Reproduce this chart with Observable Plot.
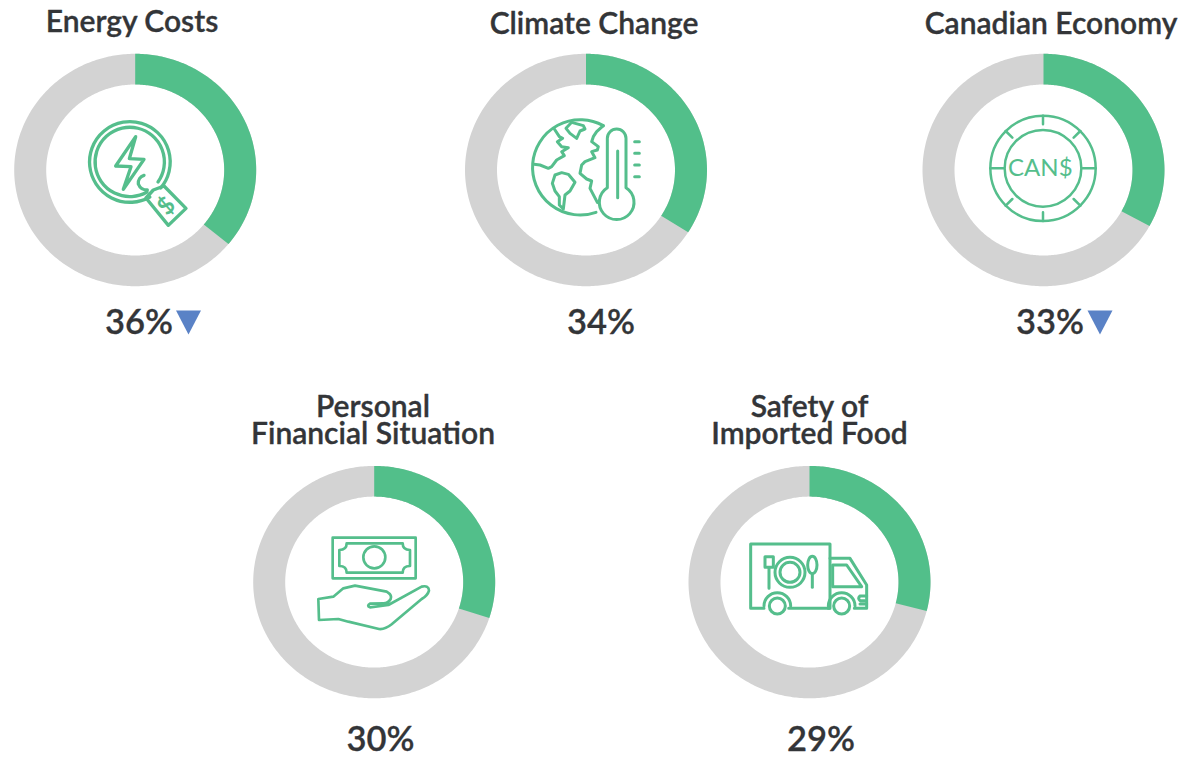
<!DOCTYPE html>
<html><head><meta charset="utf-8">
<script src="https://cdn.jsdelivr.net/npm/d3@7"></script>
<script src="https://cdn.jsdelivr.net/npm/@observablehq/plot@0.6"></script>
<style>html,body{margin:0;padding:0;background:#fff}svg{display:block}</style>
</head><body><div id="chart"></div>
<script>
const topics = ["Energy Costs","Climate Change","Canadian Economy","Personal\nFinancial Situation","Safety of\nImported Food"];
const shares = [36,34,33,30,29];
const changes = ["down",null,"down",null,null];

// layout (pixels on the page), kept apart from the values
const centerX = [134.7,585.5,1043,373.7,809];
const centerY = [169.5,169.5,169.5,581.6,581.6];
const titleX  = [131.5,593.5,1050.5,372.5,809];
const titleY  = [23,25,25,421,421];
const labelX  = [138.5,600.5,1049.5,380,820.5];
const labelY  = [322,322,322,739,739];
const markerX = [188,null,1099.5,null,null];
const RX1 = 121, RY1 = 116.2, RX0 = 89, RY0 = 85.5;
const GREEN = "#52bf8a", GRAY = "#d3d3d3", INK = "#333538", BLUE = "#5a82c6", ICON = "#55be8c";

const rows = topics.map((topic,i)=>({topic,share:shares[i],whole:100,change:changes[i],
  cx:centerX[i],cy:centerY[i],tx:titleX[i],ty:titleY[i],lx:labelX[i],ly:labelY[i],mx:markerX[i]}));

// ring sector: the picture's rings are slightly squashed, so trace an ellipse
const wedge = {draw(ctx,l){
  const n=Math.max(2,Math.round(l*4)), pts=[];
  for(let k=0;k<=n;k++) pts.push(-Math.PI/2+(k/n)*(l/100)*2*Math.PI);
  pts.forEach((a,k)=>ctx[k?"lineTo":"moveTo"](RX1*Math.cos(a),RY1*Math.sin(a)));
  pts.reverse().forEach(a=>ctx.lineTo(RX0*Math.cos(a),RY0*Math.sin(a)));
  ctx.closePath();
}};
const triangleDown = {draw(ctx,size){
  const a=Math.sqrt(size), w=a*0.705, h=a*0.677;
  ctx.moveTo(-w,-h);ctx.lineTo(w,-h);ctx.lineTo(0,h);ctx.closePath();
}};

// line-art icons, each in its own 3x coordinate space
const icons = [
 {o:[70,110],w:10,items:[
  ["path","M239.5 261A121 121 0 1 1 272 234"],
  ["path","M231 246A104 104 0 1 1 264 216"],
  ["path","M197 80L137 168L183 170L160 238L222 148L178 146Z"],
  ["path","M222 196A24 24 0 0 0 205 222Q212 240 232 240"],
  ["path","M228 264L250 240L282 228L348 295L295 346Z"],
  ["text","$",[306,305],-45,72]
 ]},
 {o:[520,105],w:9,items:[
  ["path","M250 62A143 143 0 1 0 228 322"],
  ["path","M103 72L118 95L128 100L112 110L125 125L145 128L125 140L133 152L110 165L95 185L85 190L60 180L42 178"],
  ["path","M97 235L105 210L125 203L145 208L165 232L150 258L135 270L130 312L118 300L118 275L105 258Z"],
  ["path","M138 70L155 52L190 62L195 72L180 78L170 100L150 85Z"],
  ["path","M250 62L230 80L220 95L215 110L235 125L232 135L215 140L225 158L195 170L185 180L180 205L200 222L215 228L210 250L232 292"],
  ["path","M262 248V100A28 28 0 0 1 318 100V248A52 52 0 1 1 262 248Z"],
  ["path","M293 138V278"],
  ["path","M344 110H358M344 145H358M344 180H358M344 215H358"]
 ]},
 {o:[975,105],w:7.5,items:[
  ["circle",204,190,158],["circle",204,190,115],
  ["path","M204 32V58M204 348V322M46 190H85M362 190H323M92 78L112 98M316 78L296 98M92 302L112 282M316 302L296 282"],
  ["text","CAN$",[196,212],0,72,"400"]
 ]},
 {o:[305,525],w:8,items:[
  ["path","M83 38H332V160H83Z"],
  ["path","M125 55H293Q293 75 315 75V123Q293 123 293 143H125Q125 123 103 123V75Q125 75 125 55Z"],
  ["circle",208,97,33],
  ["path","M40 222L85 215L115 190L150 182L245 200Q262 210 257 222Q250 235 235 235L195 236Q184 243 195 247L250 240L350 185Q372 180 372 197Q368 212 350 222L260 298Q240 314 222 312L130 290L100 282L42 285Z"]
 ]},
 {o:[740,530],w:9,items:[
  ["path","M72 235H32V42H270V235H146"],
  ["path","M270 85H330L380 165V235H343"],
  ["path","M265 235H268"],
  ["path","M278 105H320L365 170H278Z"],
  ["circle",112,228,24],["circle",305,228,24],
  ["path","M72 228A40 40 0 0 1 152 228M265 228A40 40 0 0 1 345 228"],
  ["path","M75 80H100V112H75ZM87 112V175"],
  ["circle",150,127,45],["circle",150,127,30],
  ["ellipse",217,105,14,26],
  ["path","M217 131V172"],
  ["path","M380 198H360Q352 205 360 212H375M360 222H380"]
 ]}
];

function iconLayer(){
  const g=d3.create("svg:g").attr("fill","none").attr("stroke",ICON)
    .attr("stroke-linejoin","round").attr("stroke-linecap","round");
  for(const ic of icons){
    const s=g.append("g").attr("stroke-width",ic.w).attr("transform",`translate(${ic.o[0]},${ic.o[1]}) scale(${1/3})`);
    for(const it of ic.items){
      if(it[0]==="path") s.append("path").attr("d",it[1]);
      else if(it[0]==="circle") s.append("circle").attr("cx",it[1]).attr("cy",it[2]).attr("r",it[3]);
      else if(it[0]==="ellipse") s.append("ellipse").attr("cx",it[1]).attr("cy",it[2]).attr("rx",it[3]).attr("ry",it[4]);
      else if(it[0]==="text"){
        const [x,y]=it[2];
        s.append("text").text(it[1]).attr("transform",`translate(${x},${y}) rotate(${it[3]})`)
         .attr("text-anchor","middle").attr("fill",ICON).attr("stroke","none")
         .attr("font-family","Lato").attr("font-size",it[4]).attr("font-weight",it[5]||"700");
      }
    }
  }
  return g.node();
}

const chart = Plot.plot({
  width:1199,height:757,margin:0,
  style:{background:"#fff",fontFamily:"Lato"},
  x:{type:"identity",axis:null},
  y:{type:"identity",axis:null},
  length:{type:"identity"},
  marks:[
    Plot.vector(rows,{x:"cx",y:"cy",length:"whole",anchor:"start",shape:wedge,fill:GRAY,stroke:"none"}),
    Plot.vector(rows,{x:"cx",y:"cy",length:"share",anchor:"start",shape:wedge,fill:GREEN,stroke:"none"}),
    iconLayer,
    Plot.text(rows,{x:"tx",y:"ty",text:"topic",fontSize:30,fontWeight:600,fill:INK,stroke:INK,strokeWidth:0.35,lineHeight:0.9,lineAnchor:"middle"}),
    Plot.text(rows,{x:"lx",y:"ly",text:d=>`${d.share}%`,fontSize:34.5,fontWeight:600,fill:INK,stroke:INK,strokeWidth:0.3}),
    Plot.dot(rows.filter(d=>d.change==="down"),{x:"mx",y:"ly",symbol:triangleDown,r:10,fill:BLUE,stroke:"none"})
  ]
});
document.getElementById("chart").append(chart);
</script></body></html>
